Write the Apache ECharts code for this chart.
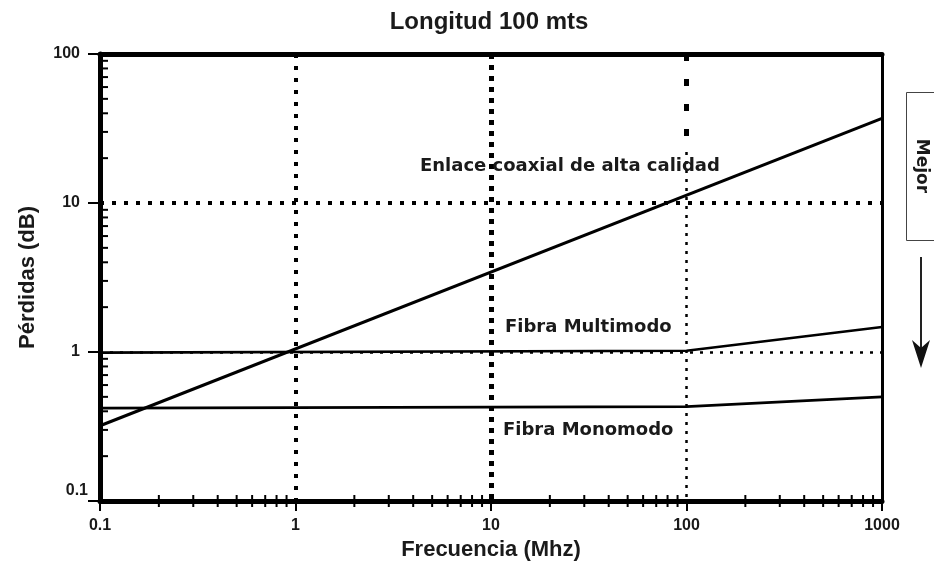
<!DOCTYPE html>
<html>
<head>
<meta charset="utf-8">
<script src="https://cdn.jsdelivr.net/npm/echarts@6/dist/echarts.min.js"></script>
<style>html,body{margin:0;padding:0;background:#fff}#c{width:934px;height:566px}</style>
</head>
<body>
<div id="c"></div>
<script>
// ---- data ----
const xTickLabels = ['0.1', '1', '10', '100', '1000'];
const yTickLabels = ['0.1', '1', '10', '100'];
const coaxFreq = [0.1, 1000];
const coaxLoss = [0.32, 37];
const multiFreq = [0.1, 100, 1000];
const multiLoss = [0.99, 1.02, 1.47];
const monoFreq = [0.1, 100, 1000];
const monoLoss = [0.42, 0.43, 0.5];
const minorMultipliers = [2, 3, 4, 5, 6, 7, 8, 9];
const xDecades = [0.1, 1, 10, 100];
const yDecades = [0.1, 1, 10];

const SANS = '"Liberation Sans", Arial, sans-serif';
const WIDE = '"DejaVu Sans"';
const pairs = (xs, ys) => xs.map((x, i) => [x, ys[i]]);
const xMinor = [];
xDecades.forEach(d => minorMultipliers.forEach(m => xMinor.push([+(d * m).toPrecision(3), 0.1])));
const yMinor = [];
yDecades.forEach(d => minorMultipliers.forEach(m => yMinor.push([0.1, +(d * m).toPrecision(3)])));

function fmt(list) {
  return function (v) {
    for (const s of list) { if (Math.abs(parseFloat(s) - v) / parseFloat(s) < 1e-6) return s; }
    return '';
  };
}

const chart = echarts.init(document.getElementById('c'), null, { renderer: 'canvas' });
const labelStyle = { fontFamily: SANS, fontWeight: 'bold', fontSize: 16, color: '#1a1a1a' };

chart.setOption({
  animation: false,
  backgroundColor: '#fff',
  title: {
    text: 'Longitud 100 mts', left: 484, top: 5, textAlign: 'center',
    textStyle: { fontFamily: SANS, fontWeight: 'bold', fontSize: 24, color: '#1a1a1a' }
  },
  grid: { left: 100, right: 52, top: 54, bottom: 64, show: false },
  xAxis: [{
    type: 'log', logBase: 10, min: 0.1, max: 1000, position: 'bottom',
    name: 'Frecuencia (Mhz)', nameLocation: 'middle', nameGap: 38,
    nameTextStyle: { fontFamily: SANS, fontWeight: 'bold', fontSize: 22, color: '#1a1a1a', verticalAlign: 'top' },
    axisLine: { lineStyle: { color: '#000', width: 5 } },
    axisTick: { length: 10, lineStyle: { color: '#000', width: 2 } },
    axisLabel: Object.assign({ margin: 17, formatter: fmt(xTickLabels) }, labelStyle),
    splitLine: { show: false }, minorTick: { show: false }
  }, {
    type: 'log', logBase: 10, min: 0.1, max: 1000, position: 'top',
    axisLine: { lineStyle: { color: '#000', width: 5 } },
    axisTick: { show: false }, axisLabel: { show: false }, splitLine: { show: false }
  }],
  yAxis: [{
    type: 'log', logBase: 10, min: 0.1, max: 100, position: 'left',
    name: 'Pérdidas (dB)', nameLocation: 'middle', nameGap: 61, nameRotate: 90,
    nameTextStyle: { fontFamily: SANS, fontWeight: 'bold', fontSize: 22, color: '#1a1a1a' },
    axisLine: { lineStyle: { color: '#000', width: 5 } },
    axisTick: { length: 12, lineStyle: { color: '#000', width: 2 } },
    axisLabel: Object.assign({
      margin: 20,
      formatter: function (v) { const s = fmt(yTickLabels)(v); return s === '0.1' ? '{low|0.1}' : s; },
      rich: { low: { fontFamily: SANS, fontWeight: 'bold', fontSize: 16, color: '#1a1a1a', padding: [0, -8, 20, 0] } }
    }, labelStyle),
    splitLine: { show: false }
  }, {
    type: 'log', logBase: 10, min: 0.1, max: 100, position: 'right',
    axisLine: { lineStyle: { color: '#000', width: 3 } },
    axisTick: { show: false }, axisLabel: { show: false }, splitLine: { show: false }
  }],
  series: [
    {
      type: 'line', data: [[0.1, 0.1]], showSymbol: false, lineStyle: { width: 0 }, z: 1, silent: true,
      markLine: {
        silent: true, symbol: ['none', 'none'], label: { show: false },
        emphasis: { disabled: true }, animation: false,
        lineStyle: { color: '#000' },
        data: [
          [{ coord: [1, 100], lineStyle: { color: '#000', width: 4, type: [4, 8] } }, { coord: [1, 0.1] }],
          [{ coord: [10, 100], lineStyle: { color: '#000', width: 5, type: [5, 6] } }, { coord: [10, 0.1] }],
          [{ coord: [100, 100], lineStyle: { color: '#000', width: 5, type: [7, 18] } }, { coord: [100, 22] }],
          [{ coord: [100, 22], lineStyle: { color: '#000', width: 2.5, type: [3, 6] } }, { coord: [100, 0.1] }],
          [{ coord: [0.1, 10], lineStyle: { color: '#000', width: 4, type: [4, 8] } }, { coord: [1000, 10] }],
          [{ coord: [0.1, 1], lineStyle: { color: '#000', width: 2.5, type: [3, 7] } }, { coord: [1000, 1] }]
        ]
      }
    },
    {
      name: 'Enlace coaxial', type: 'line', data: pairs(coaxFreq, coaxLoss), showSymbol: false,
      lineStyle: { color: '#000', width: 3 }, z: 3, silent: true
    },
    {
      name: 'Fibra Multimodo', type: 'line', data: pairs(multiFreq, multiLoss), showSymbol: false,
      lineStyle: { color: '#000', width: 2.6 }, z: 3, silent: true
    },
    {
      name: 'Fibra Monomodo', type: 'line', data: pairs(monoFreq, monoLoss), showSymbol: false,
      lineStyle: { color: '#000', width: 2.6 }, z: 3, silent: true
    },
    {
      type: 'custom', data: xMinor, clip: false, silent: true, z: 5,
      renderItem: function (params, api) {
        const p = api.coord([api.value(0), api.value(1)]);
        return { type: 'line', shape: { x1: p[0], y1: p[1] - 6, x2: p[0], y2: p[1] + 6 }, style: { stroke: '#000', lineWidth: 2 } };
      }
    },
    {
      type: 'custom', data: yMinor, clip: false, silent: true, z: 5,
      renderItem: function (params, api) {
        const p = api.coord([api.value(0), api.value(1)]);
        return { type: 'line', shape: { x1: p[0] - 2, y1: p[1], x2: p[0] + 8, y2: p[1] }, style: { stroke: '#000', lineWidth: 2 } };
      }
    }
  ],
  graphic: [
    { type: 'text', left: 420, top: 157, z: 10, style: { text: 'Enlace coaxial de alta calidad', font: 'bold 18px ' + WIDE, fill: '#1a1a1a' } },
    { type: 'text', left: 505, top: 318, z: 10, style: { text: 'Fibra Multimodo', font: 'bold 18px ' + WIDE, fill: '#1a1a1a' } },
    { type: 'text', left: 503, top: 421, z: 10, style: { text: 'Fibra Monomodo', font: 'bold 18px ' + WIDE, fill: '#1a1a1a' } },
    { type: 'rect', shape: { x: 906.5, y: 92.5, width: 40, height: 148 }, style: { fill: '#fff', stroke: '#444', lineWidth: 1 } },
    { type: 'text', x: 921, y: 166, rotation: -Math.PI / 2, style: { text: 'Mejor', font: 'bold 17px ' + WIDE, fill: '#1a1a1a', align: 'center', verticalAlign: 'middle' } },
    { type: 'line', shape: { x1: 921, y1: 257, x2: 921, y2: 350 }, style: { stroke: '#222', lineWidth: 2 } },
    { type: 'polygon', shape: { points: [[912, 340], [921, 348], [930, 340], [921, 368]] }, style: { fill: '#111' } }
  ]
});
</script>
</body>
</html>
